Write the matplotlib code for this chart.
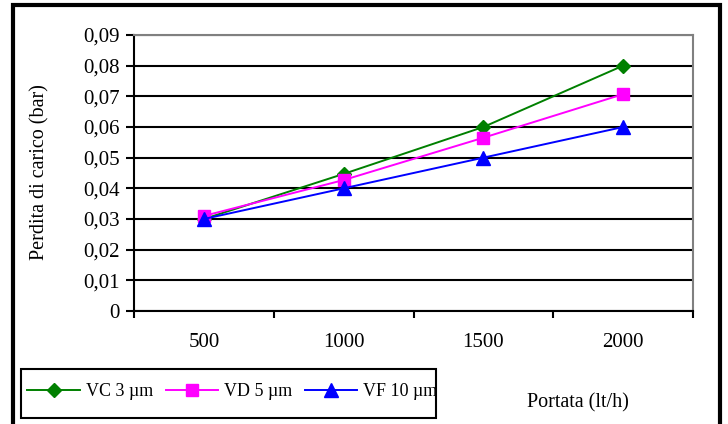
import matplotlib.pyplot as plt
from matplotlib.patches import Rectangle
from matplotlib.ticker import FuncFormatter

plt.rcParams['font.family'] = ['Liberation Serif', 'DejaVu Serif']

# dati
portata = ['500', '1000', '1500', '2000']
vc_3um = [0.030, 0.0447, 0.060, 0.080]
vd_5um = [0.031, 0.0427, 0.0565, 0.0707]
vf_10um = [0.030, 0.040, 0.050, 0.060]

fig = plt.figure(figsize=(7.28, 4.24), dpi=100)
ax = fig.add_axes([134 / 728, 1 - 311 / 424, 559 / 728, 276 / 424])

x = list(range(1, len(portata) + 1))
ax.plot(x, vc_3um, color='#008000', marker='D', markersize=7.5, lw=1.4, label='VC 3 \u00b5m', zorder=3)
ax.plot(x, vd_5um, color='#ff00ff', marker='s', markersize=8, lw=1.4, label='VD 5 \u00b5m', zorder=3)
ax.plot(x, vf_10um, color='#0000ff', marker='^', markersize=9.5, lw=1.4, label='VF 10 \u00b5m', zorder=3)

ax.set_xlim(0.5, 4.5)
ax.set_ylim(0, 0.09)
ax.set_yticks([i / 100 for i in range(10)])
ax.yaxis.set_major_formatter(FuncFormatter(lambda v, p: '0' if v == 0 else f'{v:.2f}'.replace('.', ',')))
ax.set_xticks([0.5, 1.5, 2.5, 3.5, 4.5])
ax.set_xticklabels([])
ax.set_xticks(x, minor=True)
ax.set_xticklabels(portata, minor=True)
ax.tick_params(axis='x', which='minor', length=0, pad=16, labelsize=15)
ax.tick_params(axis='x', which='major', direction='out', length=5, width=1.5)
ax.tick_params(axis='y', direction='out', length=6, width=1.5, labelsize=15, pad=4)

ax.grid(axis='y', color='black', lw=1.5)
ax.set_axisbelow(True)
for s in ['top', 'right']:
    ax.spines[s].set_color('#808080')
    ax.spines[s].set_linewidth(1.5)
for s in ['left', 'bottom']:
    ax.spines[s].set_color('black')
    ax.spines[s].set_linewidth(1.5)

fig.text(40 / 728, 1 - 172 / 424, 'Perdita di carico (bar)', fontsize=14.5, rotation=90,
         ha='center', va='center')
fig.text(578 / 728, 1 - 403 / 424, 'Portata (lt/h)', fontsize=14.5, ha='center', va='center')

fig.legend(loc='center left', bbox_to_anchor=(22 / 728, 1 - 392 / 424), ncol=3, fontsize=13,
           frameon=False, handlelength=2.9, columnspacing=0.7, handletextpad=0.33,
           borderpad=0.3, borderaxespad=0)
# riquadro legenda
fig.patches.append(Rectangle((21 / 728, 1 - 418 / 424), 415 / 728, 49 / 424, transform=fig.transFigure,
                             fill=False, edgecolor='black', lw=1.5))

# cornice esterna
fig.patches.append(Rectangle((13 / 728, -0.01), 707 / 728, 1 - 5 / 424 + 0.01, transform=fig.transFigure,
                             fill=False, edgecolor='black', lw=3))

fig.savefig('out.png', dpi=100)
